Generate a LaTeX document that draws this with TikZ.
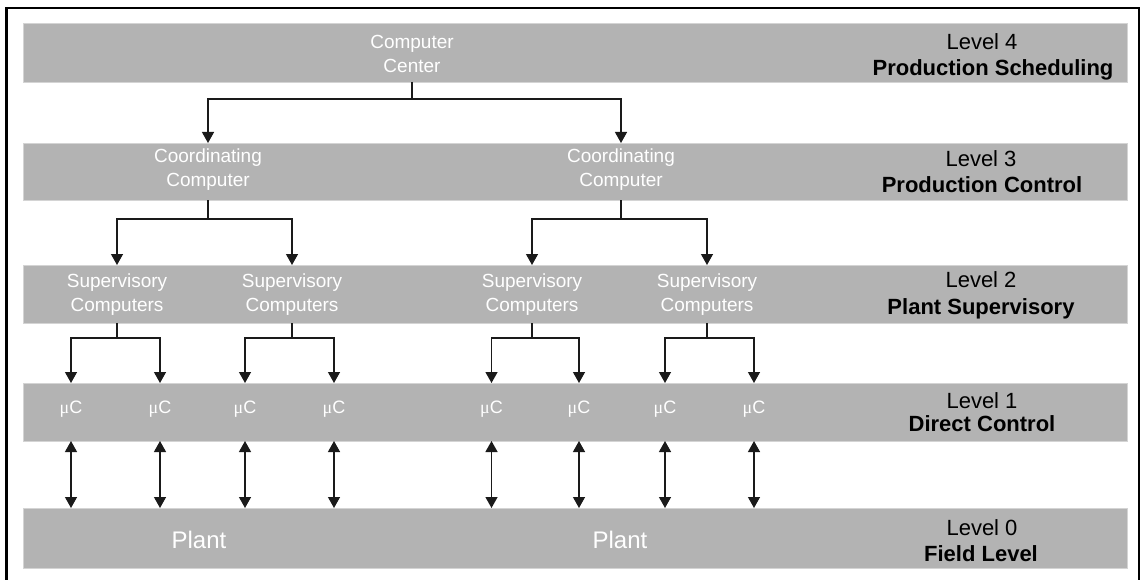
\documentclass[tikz,border=0pt]{standalone}
\usepackage{fontspec}
\setmainfont{Liberation Sans}
\newfontfamily\mufont{Liberation Serif}
\usetikzlibrary{arrows.meta}
\definecolor{bandgray}{HTML}{B3B3B3}
\definecolor{bandedge}{HTML}{D4D4D4}
\definecolor{inkline}{HTML}{1A1A1A}
\begin{document}
\begin{tikzpicture}[x=1pt,y=-1pt,
  band/.style={fill=bandgray, draw=bandedge, line width=0.8pt,
    minimum width=1104pt, inner sep=0pt, outer sep=0pt},
  unit/.style={text=white, font=\fontsize{19}{24}\selectfont, align=center,
    inner sep=0pt, anchor=north},
  micro/.style={text=white, font=\fontsize{18}{20}\selectfont, inner sep=0pt, anchor=base},
  plant/.style={text=white, font=\fontsize{24}{28}\selectfont, inner sep=0pt, anchor=base},
  levnum/.style={text=black, font=\fontsize{22}{26}\selectfont, inner sep=0pt, anchor=base},
  levname/.style={text=black, font=\fontsize{22}{26}\selectfont\bfseries, inner sep=0pt, anchor=base},
  link/.style={draw=inkline, line width=1.3pt},
  tip/.tip={Triangle[width=12pt,length=11pt]},
  arr/.style={link, -tip},
  both/.style={link, tip-tip},
]
\useasboundingbox (0,0) rectangle (1142,580);

% outer frame, open at the bottom
\draw[line width=2.2pt, line join=miter] (6.5,580) -- (6.5,8) -- (1139,8) -- (1139,580);

% level bands
\node[band, minimum height=59pt] (b4) at (575,52.5) {};
\node[band, minimum height=57pt] (b3) at (575,171.5) {};
\node[band, minimum height=58pt] (b2) at (575,294) {};
\node[band, minimum height=58pt] (b1) at (575,412) {};
\node[band, minimum height=60pt] (b0) at (575,538) {};

% level captions
\node[levnum]  (l4a) at (982,50)   {Level 4};
\node[levname] (l4b) at (993,76)   {Production Scheduling};
\node[levnum]  (l3a) at (981,167)  {Level 3};
\node[levname] (l3b) at (982,193)  {Production Control};
\node[levnum]  (l2a) at (981,287)  {Level 2};
\node[levname] (l2b) at (981,314)  {Plant Supervisory};
\node[levnum]  (l1a) at (982,408)  {Level 1};
\node[levname] (l1b) at (982,431)  {Direct Control};
\node[levnum]  (l0a) at (982,535)  {Level 0};
\node[levname] (l0b) at (981,561)  {Field Level};

% computers
\node[unit] (cc)  at (412,35)  {Computer\\Center};
\node[unit] (co1) at (208,149) {Coordinating\\Computer};
\node[unit] (co2) at (621,149) {Coordinating\\Computer};
\node[unit] (s1) at (117,274) {Supervisory\\Computers};
\node[unit] (s2) at (292,274) {Supervisory\\Computers};
\node[unit] (s3) at (532,274) {Supervisory\\Computers};
\node[unit] (s4) at (707,274) {Supervisory\\Computers};

\foreach \n/\x in {1/71,2/160,3/245,4/334,5/491.5,6/579,7/665,8/754}
  \node[micro] (m\n) at (\x,413) {{\mufont μ}C};

\node[plant] (p1) at (199,548) {Plant};
\node[plant] (p2) at (620,548) {Plant};

% branch heights
\coordinate (y4) at (0,99);
\coordinate (y3) at (0,219);
\coordinate (y2) at (0,338);

% computer center to coordinating computers
\draw[link] (cc |- b4.south) -- (cc |- y4);
\draw[arr] (cc |- y4) -| (co1 |- b3.north);
\draw[arr] (cc |- y4) -| (co2 |- b3.north);

% coordinating to supervisory computers
\foreach \p/\a/\b in {co1/s1/s2, co2/s3/s4}{
  \draw[link] (\p |- b3.south) -- (\p |- y3);
  \draw[arr] (\p |- y3) -| (\a |- b2.north);
  \draw[arr] (\p |- y3) -| (\b |- b2.north);
}

% supervisory computers to micro controllers
\foreach \p/\a/\b in {s1/m1/m2, s2/m3/m4, s3/m5/m6, s4/m7/m8}{
  \draw[link] (\p |- b2.south) -- (\p |- y2);
  \draw[arr] (\p |- y2) -| (\a |- b1.north);
  \draw[arr] (\p |- y2) -| (\b |- b1.north);
}

% micro controllers to plant
\foreach \n in {1,...,8}
  \draw[both] (m\n |- b1.south) -- (m\n |- b0.north);
\end{tikzpicture}
\end{document}
